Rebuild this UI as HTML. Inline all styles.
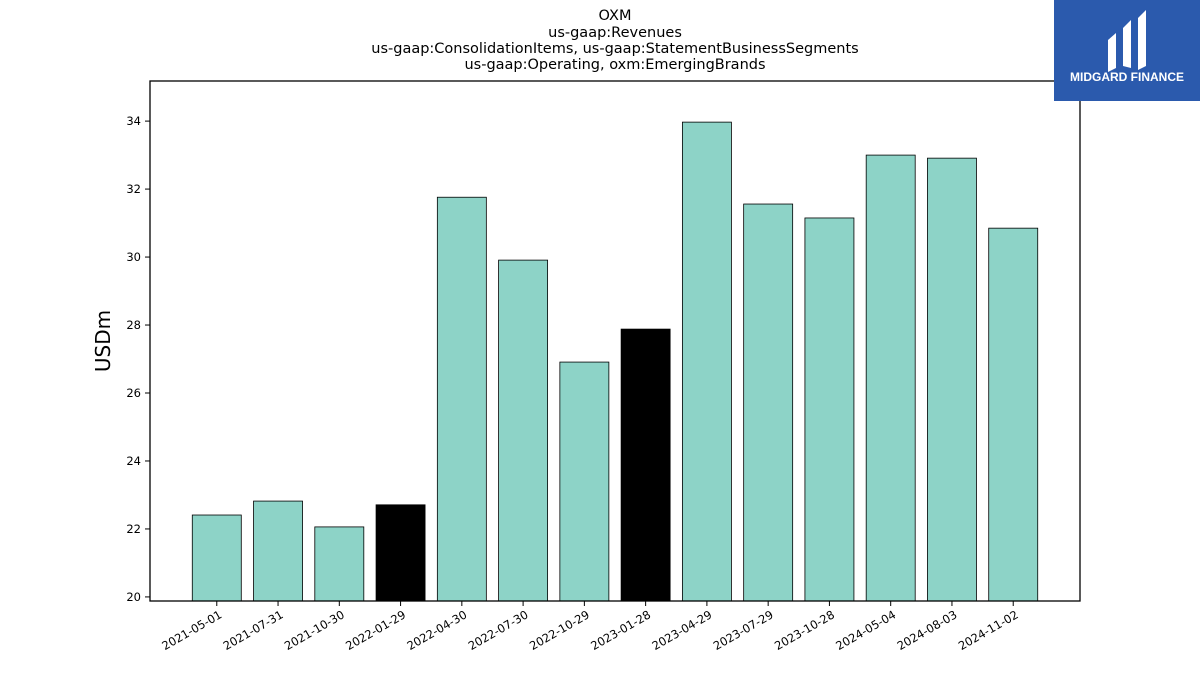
<!DOCTYPE html>
<html><head><meta charset="utf-8"><style>
body{margin:0;background:#fff;font-family:"Liberation Sans","DejaVu Sans",sans-serif}
svg text{font-family:"DejaVu Sans","Liberation Sans",sans-serif}
</style></head><body>
<svg id="chart" width="1200" height="675" viewBox="0 0 1200 675" xmlns="http://www.w3.org/2000/svg">
<g font-size="14.5" text-anchor="middle" fill="#000">
<text x="615" y="20">OXM</text>
<text x="615" y="37">us-gaap:Revenues</text>
<text x="615" y="53">us-gaap:ConsolidationItems, us-gaap:StatementBusinessSegments</text>
<text x="615" y="69">us-gaap:Operating, oxm:EmergingBrands</text>
</g>
<g id="bars"></g>
<g id="yticks"></g>
<g id="xticks"></g>
<rect x="150" y="81" width="930" height="520" fill="none" stroke="#000" stroke-width="1.3"/>
<text x="110" y="341" font-size="20" text-anchor="middle" transform="rotate(-90 110 341)">USDm</text>
<g>
<rect x="1054" y="0" width="146" height="101" fill="#2b5aad"/>
<path d="M1108 40 L1116 33 L1116 68 L1108 72 Z" fill="#fff"/>
<path d="M1123 28 L1131 20 L1131 68 L1123 66 Z" fill="#fff"/>
<path d="M1138 18 L1146 10 L1146 66 L1138 70 Z" fill="#fff"/>
<text x="1127" y="81" font-size="12" font-weight="bold" fill="#fff" text-anchor="middle" style="font-family:'Liberation Sans',sans-serif">MIDGARD FINANCE</text>
</g>
</svg>
<script>
const categories=["2021-05-01","2021-07-31","2021-10-30","2022-01-29","2022-04-30","2022-07-30","2022-10-29","2023-01-28","2023-04-29","2023-07-29","2023-10-28","2024-05-04","2024-08-03","2024-11-02"];
const values=[22.41,22.82,22.06,22.71,31.76,29.91,26.91,27.88,33.97,31.56,31.15,33.0,32.91,30.85];
const highlighted=[false,false,false,true,false,false,false,true,false,false,false,false,false,false];
const yTicks=[20,22,24,26,28,30,32,34];
const NS="http://www.w3.org/2000/svg";
const yMin=19.88,yMax=35.18,yTop=81,yBot=601,xLeft=150,xRight=1080;
function yScale(v){return yBot-(v-yMin)/(yMax-yMin)*(yBot-yTop);}
const xLo=-1.09,xHi=categories.length-1+1.09;
function xScale(i){return xLeft+(i-xLo)/(xHi-xLo)*(xRight-xLeft);}
const bw=0.8*(xRight-xLeft)/(xHi-xLo);
const gb=document.getElementById('bars'),gy=document.getElementById('yticks'),gx=document.getElementById('xticks');
values.forEach((v,i)=>{
 const r=document.createElementNS(NS,'rect');
 
 
 const y=yScale(v);
 r.setAttribute('x',xScale(i)-bw/2);r.setAttribute('y',y);
 r.setAttribute('width',bw);r.setAttribute('height',yBot-y);
 r.setAttribute('fill',highlighted[i]?'#000':'#8dd3c7');
 r.setAttribute('stroke','#000');r.setAttribute('stroke-width','0.8');
 gb.appendChild(r);
 const x=xScale(i);
 const t=document.createElementNS(NS,'line');
 
 
 t.setAttribute('x1',x);t.setAttribute('x2',x);t.setAttribute('y1',yBot);t.setAttribute('y2',yBot+5);t.setAttribute('stroke','#000');
 gx.appendChild(t);
 const l=document.createElementNS(NS,'text');
 
 
 l.setAttribute('font-size','11.5');l.setAttribute('text-anchor','end');
 l.setAttribute('transform','translate('+(x+6)+','+(yBot+16)+') rotate(-30)');
 l.textContent=categories[i];gx.appendChild(l);
});
yTicks.forEach(v=>{
 const y=yScale(v);
 const t=document.createElementNS(NS,'line');
 
 
 t.setAttribute('x1',xLeft-5);t.setAttribute('x2',xLeft);t.setAttribute('y1',y);t.setAttribute('y2',y);t.setAttribute('stroke','#000');
 gy.appendChild(t);
 const l=document.createElementNS(NS,'text');
 
 
 l.setAttribute('font-size','11.5');l.setAttribute('text-anchor','end');
 l.setAttribute('x',xLeft-9);l.setAttribute('y',y+4);
 l.textContent=v;gy.appendChild(l);
});
</script>
</body></html>
